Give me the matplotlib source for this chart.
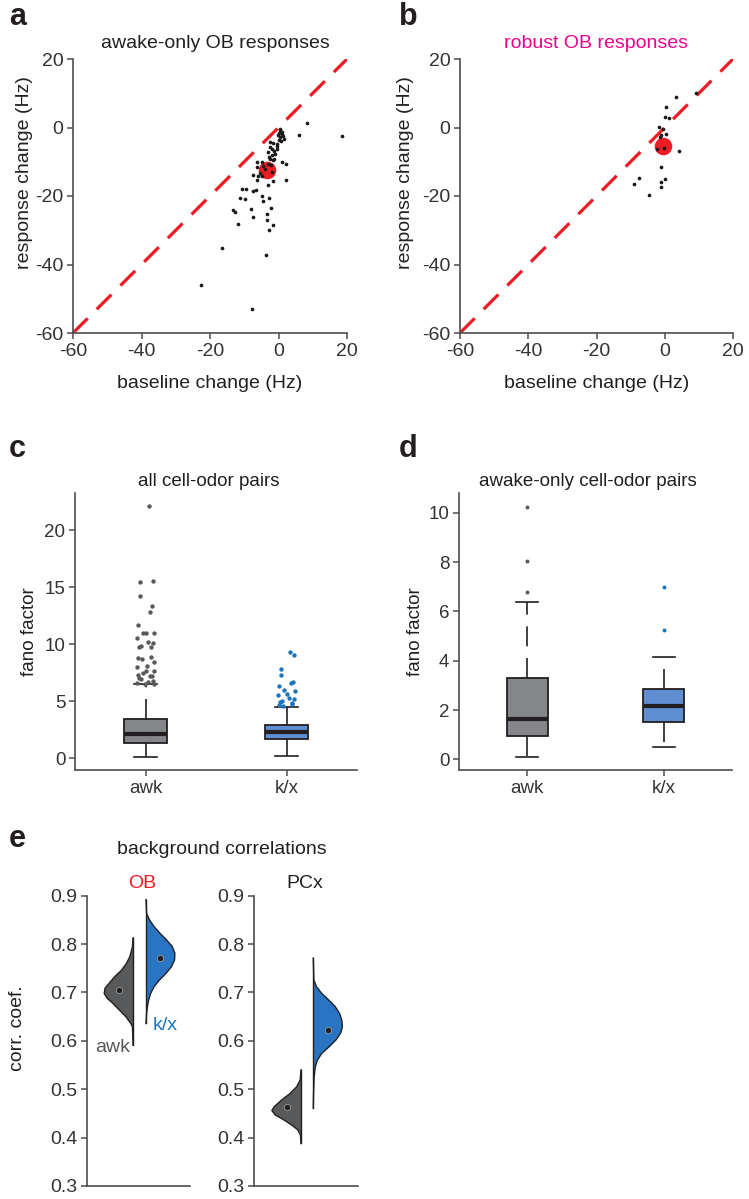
import numpy as np
import matplotlib
matplotlib.use("Agg")
import matplotlib.pyplot as plt

plt.rcParams['font.family'] = ['Liberation Sans', 'DejaVu Sans']
plt.rcParams['axes.unicode_minus'] = False

# ---- panel a: awake-only OB responses (baseline change, response change) ----
a_base = [0.5, 1.0, 0.5, 0.0, 1.5, -0.5, -2.4, -2.6, -0.5, -3.2, -1.0, -2.9, -1.2, 1.0, 2.2,
          -6.3, -4.9, -6.3, -4.6, -3.2, -2.2, -7.3, -6.1, -4.9, -6.3, -3.2, -1.6, 2.2,
          -10.7, -9.5, -7.5, -6.5, -11.2, -9.7, -4.9, -2.9, -4.6, -8.0, -2.2, -13.2, -12.6,
          -7.3, -3.4, -3.4, -11.9, -1.6, -2.9, -16.4, -3.6, -22.5, -7.8, 6.1, 8.3, 18.4,
          0.3, 0.9, 0.1, 1.2, 0.8, -0.2, -1.6, -1.9, -0.3, -1.4, -2.0, -1.7, -2.6, -4.0, -5.5, -2.0]
a_resp = [-0.8, -1.8, -2.8, -3.7, -3.3, -4.7, -4.2, -5.7, -6.2, -7.2, -7.6, -8.6, -9.1, -10.1, -10.6,
          -10.1, -10.1, -11.5, -11.3, -10.8, -11.0, -14.0, -14.3, -14.3, -15.4, -16.9, -15.6, -15.2,
          -17.9, -18.1, -18.4, -18.2, -20.5, -20.9, -20.1, -20.5, -21.6, -23.7, -23.5, -24.2, -24.7,
          -26.0, -25.4, -26.9, -28.1, -28.6, -30.0, -35.2, -37.1, -46.1, -53.1, -2.1, 1.2, -2.5,
          -0.4, -1.3, -1.6, -2.4, -3.9, -2.2, -4.6, -6.4, -5.4, -6.9, -8.1, -9.6, -9.2, -12.0, -13.2, -13.0]
a_mean = (-3.3, -12.5)

# ---- panel b: robust OB responses ----
b_base = [9.3, 3.4, 0.3, 0.2, 1.3, -1.8, -0.5, 0.3, -1.0, -1.5, -2.3, -0.3, 4.1, -1.0,
          -7.5, -9.0, 0.0, -1.2, -1.2, -4.7]
b_resp = [10.2, 8.9, 6.0, 3.1, 2.9, 0.1, -0.3, -1.8, -2.2, -2.9, -6.2, -5.9, -6.9, -11.6,
          -14.6, -16.4, -15.1, -15.9, -17.4, -19.8]
b_mean = (-0.4, -5.3)

# ---- panel c: fano factor, all cell-odor pairs (box stats + outliers) ----
groups = ['awk', 'k/x']
c_whislo = [0.1, 0.15]
c_q1 = [1.35, 1.7]
c_med = [2.15, 2.3]
c_q3 = [3.4, 2.9]
c_whishi = [6.5, 4.5]
c_fliers_awk = [22.1, 15.5, 15.4, 14.2, 13.3, 12.8, 11.7, 11.0, 11.0, 11.0, 10.5, 10.2, 10.1,
                9.8, 9.7, 9.7, 8.9, 8.8, 8.7, 8.4, 8.1, 8.0, 7.6, 7.6, 7.5, 7.3, 7.2, 7.2,
                7.0, 6.9, 6.8, 6.7, 6.6, 6.5, 6.5]
c_fliers_kx = [9.3, 9.0, 7.8, 7.3, 6.7, 6.55, 6.3, 5.95, 5.9, 5.6, 5.5, 5.3, 5.2, 5.0,
               4.9, 4.85, 4.7, 4.65, 4.6]

# ---- panel d: fano factor, awake-only cell-odor pairs ----
d_whislo = [0.1, 0.5]
d_q1 = [0.95, 1.5]
d_med = [1.65, 2.15]
d_q3 = [3.3, 2.85]
d_whishi = [6.4, 4.15]
d_fliers_awk = [6.8, 8.05, 10.25]
d_fliers_kx = [5.25, 7.0]

# ---- panel e: background correlations, half-violin outlines (value, relative width) ----
ob_awk_y = [0.813, 0.795, 0.774, 0.760, 0.746, 0.733, 0.719, 0.709, 0.698, 0.688, 0.678,
            0.664, 0.650, 0.636, 0.629, 0.591]
ob_awk_w = [0, 0.02, 0.11, 0.23, 0.40, 0.63, 0.83, 0.97, 1.0, 0.90, 0.71, 0.48, 0.25, 0.08, 0.02, 0]
ob_kx_y = [0.892, 0.863, 0.850, 0.836, 0.822, 0.808, 0.795, 0.781, 0.767, 0.753, 0.740,
           0.726, 0.712, 0.698, 0.684, 0.671, 0.657, 0.636]
ob_kx_w = [0, 0.02, 0.12, 0.28, 0.49, 0.72, 0.91, 1.0, 0.99, 0.88, 0.70, 0.47, 0.28, 0.16,
           0.09, 0.05, 0.02, 0]
pcx_awk_y = [0.540, 0.519, 0.505, 0.491, 0.478, 0.464, 0.456, 0.447, 0.437, 0.426, 0.416, 0.406, 0.388]
pcx_awk_w = [0, 0.03, 0.15, 0.38, 0.66, 0.92, 1.0, 0.89, 0.60, 0.32, 0.11, 0.02, 0]
pcx_kx_y = [0.771, 0.726, 0.712, 0.698, 0.685, 0.671, 0.657, 0.643, 0.629, 0.616, 0.602,
            0.588, 0.574, 0.560, 0.546, 0.526, 0.491, 0.461]
pcx_kx_w = [0, 0.02, 0.11, 0.29, 0.52, 0.75, 0.90, 0.98, 1.0, 0.94, 0.78, 0.55, 0.29, 0.14,
            0.07, 0.03, 0.01, 0]
e_means = {'OB': (0.705, 0.772), 'PCx': (0.463, 0.623)}

# colours
RED = '#ed1c24'
MAGENTA = '#ec008c'
GRAY_DARK = '#58595b'
BLUE = '#1c75bc'
TXT = '#231f20'
SPINE = '#4d4d4f'

W, H = 749, 1199
fig = plt.figure(figsize=(W / 100, H / 100), dpi=100)


def add_ax(left, top, right, bottom):
    return fig.add_axes([left / W, 1 - bottom / H, (right - left) / W, (bottom - top) / H])


def ftxt(x, y, s, **kw):
    kw.setdefault('color', TXT)
    kw.setdefault('ha', 'center')
    kw.setdefault('va', 'center')
    fig.text(x / W, 1 - y / H, s, **kw)


def style(ax, fs=14):
    for sp in ['top', 'right']:
        ax.spines[sp].set_visible(False)
    for sp in ['left', 'bottom']:
        ax.spines[sp].set_color(SPINE)
        ax.spines[sp].set_linewidth(1.2)
    ax.tick_params(direction='out', length=4, width=1.1, color=SPINE,
                   labelsize=fs, labelcolor='#333333', pad=3)


# scatter panels a and b
for (left, right), xs, ys, mean in [((73, 347), a_base, a_resp, a_mean),
                                    ((460, 733), b_base, b_resp, b_mean)]:
    ax = add_ax(left, 59, right, 333)
    ax.plot([-60, 20], [-60, 20], color=RED, lw=2.3, dashes=(6.5, 4), zorder=1)
    ax.scatter([mean[0]], [mean[1]], s=160, color=RED, linewidths=0, zorder=2)
    ax.scatter(xs, ys, s=7, color='#1a1a1a', linewidths=0, zorder=3)
    ax.set_xlim(-60, 20)
    ax.set_ylim(-60, 20)
    ax.set_xticks([-60, -40, -20, 0, 20])
    ax.set_yticks([-60, -40, -20, 0, 20])
    style(ax, 14)

ftxt(215, 43, 'awake-only OB responses', fontsize=14)
ftxt(596, 43, 'robust OB responses', fontsize=14, color=MAGENTA)
for cx in [210, 597]:
    ftxt(cx, 383, 'baseline change (Hz)', fontsize=14)
ftxt(25, 173, 'response change (Hz)', fontsize=14, rotation=90)
ftxt(405, 173, 'response change (Hz)', fontsize=14, rotation=90)


# box panels c and d
def box_panel(left, right, ylim, yticks, whislo, q1, med, q3, whishi, fl_awk, fl_kx,
              jitter, fsize):
    ax = add_ax(left, 493, right, 770)
    stats = []
    for i in range(2):
        stats.append(dict(med=med[i], q1=q1[i], q3=q3[i], whislo=whislo[i],
                          whishi=whishi[i], fliers=[]))
    bp = ax.bxp(stats, positions=[1, 2], widths=0.3, patch_artist=True, showfliers=False,
                boxprops=dict(edgecolor=TXT, linewidth=1.3),
                medianprops=dict(color=TXT, linewidth=3.0, solid_capstyle='butt'),
                whiskerprops=dict(color=TXT, linewidth=1.2, linestyle=(0, (12, 7))),
                capprops=dict(color=TXT, linewidth=1.2), capwidths=0.16)
    bp['boxes'][0].set_facecolor('#858689')
    bp['boxes'][1].set_facecolor('#5f8fd2')
    for pos, fl, col in [(1, fl_awk, GRAY_DARK), (2, fl_kx, BLUE)]:
        n = len(fl)
        offs = jitter * np.sin(1.7 * np.arange(n) + 0.4) if jitter > 0 else np.zeros(n)
        ax.scatter(pos + offs, fl, s=fsize, color=col, linewidths=0, zorder=4)
    ax.set_xlim(0.5, 2.5)
    ax.set_ylim(*ylim)
    ax.set_yticks(yticks)
    ax.set_xticks([1, 2])
    ax.set_xticklabels(groups)
    style(ax, 13.5)
    return ax


box_panel(75, 357, (-1.05, 23.25), [0, 5, 10, 15, 20], c_whislo, c_q1, c_med, c_q3,
          c_whishi, c_fliers_awk, c_fliers_kx, 0.06, 10)
box_panel(459, 732, (-0.43, 10.8), [0, 2, 4, 6, 8, 10], d_whislo, d_q1, d_med, d_q3,
          d_whishi, d_fliers_awk, d_fliers_kx, 0.0, 8)
ftxt(209, 481, 'all cell-odor pairs', fontsize=13.5)
ftxt(588, 481, 'awake-only cell-odor pairs', fontsize=13.5)
ftxt(30, 632, 'fano factor', fontsize=13.5, rotation=90)
ftxt(415, 632, 'fano factor', fontsize=13.5, rotation=90)

# half violins panel e
half = 0.28
violins = {
    'OB': ((ob_awk_y, ob_awk_w), (ob_kx_y, ob_kx_w), 0.447, 0.573, (87, 190)),
    'PCx': ((pcx_awk_y, pcx_awk_w), (pcx_kx_y, pcx_kx_w), 0.452, 0.57, (254, 358)),
}
for name, ((ay, aw), (ky, kw), pa, pk, (l, r)) in violins.items():
    ax = add_ax(l, 895.7, r, 1186)
    aw = np.array(aw) * half
    kw = np.array(kw) * half
    ax.fill_betweenx(ay, pa - aw, pa, facecolor=GRAY_DARK, edgecolor='none')
    ax.plot(pa - aw, ay, color=TXT, lw=1.0)
    ax.plot([pa, pa], [min(ay), max(ay)], color=TXT, lw=1.0)
    ax.fill_betweenx(ky, pk, pk + kw, facecolor='#2a74c4', edgecolor='none')
    ax.plot(pk + kw, ky, color=TXT, lw=1.0)
    ax.plot([pk, pk], [min(ky), max(ky)], color=TXT, lw=1.0)
    m_awk, m_kx = e_means[name]
    ax.plot([pa - half * 0.47, pk + half * 0.5], [m_awk, m_kx], linestyle='none', marker='o',
            markersize=4.5, markerfacecolor='#231f20', markeredgecolor='#9a9a9a', mew=0.6)
    ax.set_xlim(0, 1)
    ax.set_ylim(0.3, 0.9)
    ax.set_yticks([0.3, 0.4, 0.5, 0.6, 0.7, 0.8, 0.9])
    ax.set_yticklabels(['0.3', '0.4', '0.5', '0.6', '0.7', '0.8', '0.9'])
    ax.set_xticks([])
    style(ax, 14)

ftxt(222, 850, 'background correlations', fontsize=14)
ftxt(142, 883, 'OB', fontsize=14, color=RED)
ftxt(305, 883, 'PCx', fontsize=14)
ftxt(17, 1028, 'corr. coef.', fontsize=14, rotation=90)
ftxt(113, 1047, 'awk', fontsize=14, color=GRAY_DARK)
ftxt(165, 1025, 'k/x', fontsize=14, color=BLUE)

# panel letters
for x, y, s in [(9, 25, 'a'), (399, 25, 'b'), (9, 457, 'c'), (399, 457, 'd'), (9, 847, 'e')]:
    ftxt(x, y, s, fontsize=22, fontweight='bold', ha='left', va='baseline')

fig.savefig('out.png', dpi=100)
